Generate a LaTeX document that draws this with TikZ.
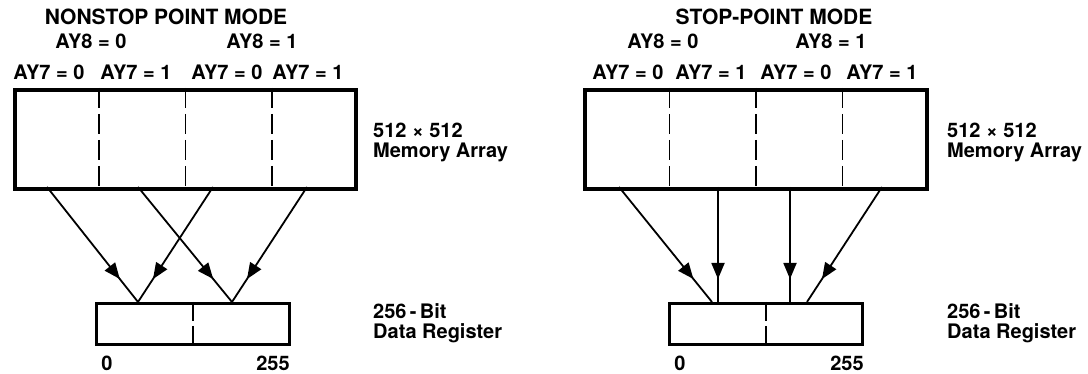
\documentclass[tikz,border=0pt]{standalone}
\usepackage{fontspec}
\setmainfont{TeX Gyre Heros}
\usetikzlibrary{positioning,arrows.meta,calc,decorations.markings}
\tikzset{
  memarray/.style={draw,line width=4pt,anchor=north west,inner sep=0pt,
    minimum width=341pt,minimum height=99pt},
  regbox/.style={draw,line width=2.8pt,anchor=north west,inner sep=0pt,
    minimum width=193pt,minimum height=41pt},
  divider/.style={line width=1.6pt,dash pattern=on 20pt off 6pt},
  regdiv/.style={line width=1.6pt,dash pattern=on 19pt off 5pt on 30pt},
  flow/.style={line width=1.8pt,postaction={decorate},
    decoration={markings,mark=at position 0.8 with {\arrow{Triangle[length=16pt,width=13pt]}}}},
  lbl/.style={font=\bfseries\fontsize{20}{20}\selectfont,inner sep=0pt,text depth=0pt},
  titlelbl/.style={lbl,font=\bfseries\fontsize{21}{21}\selectfont},
  sidelbl/.style={lbl,align=left,anchor=north west}
}

\begin{document}
\begin{tikzpicture}[x=1pt,y=-1pt]
  \useasboundingbox (0,0) rectangle (1088,374);

  % nonstop point mode
  \node[titlelbl] (titleL) at (166,17) {NONSTOP POINT MODE};
  \node[lbl] (ayeightL0) at (91,41) {AY8 = 0};
  \node[lbl] (ayeightL1) at (262,41) {AY8 = 1};
  \node[lbl] (aysevenLa) at (49,72) {AY7 = 0};
  \node[lbl] (aysevenLb) at (136,72) {AY7 = 1};
  \node[lbl] (aysevenLc) at (227,72) {AY7 = 0};
  \node[lbl] (aysevenLd) at (308,72) {AY7 = 1};
  \node[memarray] (memL) at (13,88) {};
  \foreach \f in {0.25,0.5,0.75}
    \draw[divider] ($(memL.north west)!\f!(memL.north east)$) -- ($(memL.south west)!\f!(memL.south east)$);
  \node[sidelbl] (memlblL) at (373,123) {512 × 512\\Memory Array};
  \node[regbox] (regL) at (95,302) {};
  \draw[regdiv] (regL.north) -- (regL.south);
  \node[sidelbl] (reglblL) at (373,303) {256\,-\,Bit\\Data Register};
  \node[lbl] (zeroL) at (107,363) {0};
  \node[lbl] (lastL) at (273,363) {255};
  \coordinate (srcLa) at (47,187);
  \coordinate (srcLb) at (213,187);
  \coordinate (srcLc) at (138,187);
  \coordinate (srcLd) at (307,187);
  \coordinate (dstLa) at (138,302);
  \coordinate (dstLb) at (232,302);
  \draw[flow] (srcLa) -- (dstLa);
  \draw[flow] (srcLb) -- (dstLa);
  \draw[flow] (srcLc) -- (dstLb);
  \draw[flow] (srcLd) -- (dstLb);

  % stop-point mode
  \node[titlelbl] (titleR) at (774,17) {STOP-POINT MODE};
  \node[lbl] (ayeightR0) at (663,41) {AY8 = 0};
  \node[lbl] (ayeightR1) at (831,41) {AY8 = 1};
  \node[lbl] (aysevenRa) at (628,72) {AY7 = 0};
  \node[lbl] (aysevenRb) at (711,72) {AY7 = 1};
  \node[lbl] (aysevenRc) at (796,72) {AY7 = 0};
  \node[lbl] (aysevenRd) at (882,72) {AY7 = 1};
  \node[memarray,minimum width=342pt] (memR) at (583,88) {};
  \foreach \f in {0.25,0.5,0.75}
    \draw[divider] ($(memR.north west)!\f!(memR.north east)$) -- ($(memR.south west)!\f!(memR.south east)$);
  \node[sidelbl] (memlblR) at (947,123) {512 × 512\\Memory Array};
  \node[regbox] (regR) at (668,302) {};
  \draw[regdiv] (regR.north) -- (regR.south);
  \node[sidelbl] (reglblR) at (947,303) {256\,-\,Bit\\Data Register};
  \node[lbl] (zeroR) at (680,363) {0};
  \node[lbl] (lastR) at (847,363) {255};
  \coordinate (srcRa) at (619,187);
  \coordinate (srcRb) at (718,187);
  \coordinate (srcRc) at (790,187);
  \coordinate (srcRd) at (882,187);
  \coordinate (dstRa) at (712,302);
  \coordinate (dstRb) at (718,302);
  \coordinate (dstRc) at (790,302);
  \coordinate (dstRd) at (807,302);
  \draw[flow] (srcRa) -- (dstRa);
  \draw[flow] (srcRb) -- (dstRb);
  \draw[flow] (srcRc) -- (dstRc);
  \draw[flow] (srcRd) -- (dstRd);
\end{tikzpicture}
\end{document}
